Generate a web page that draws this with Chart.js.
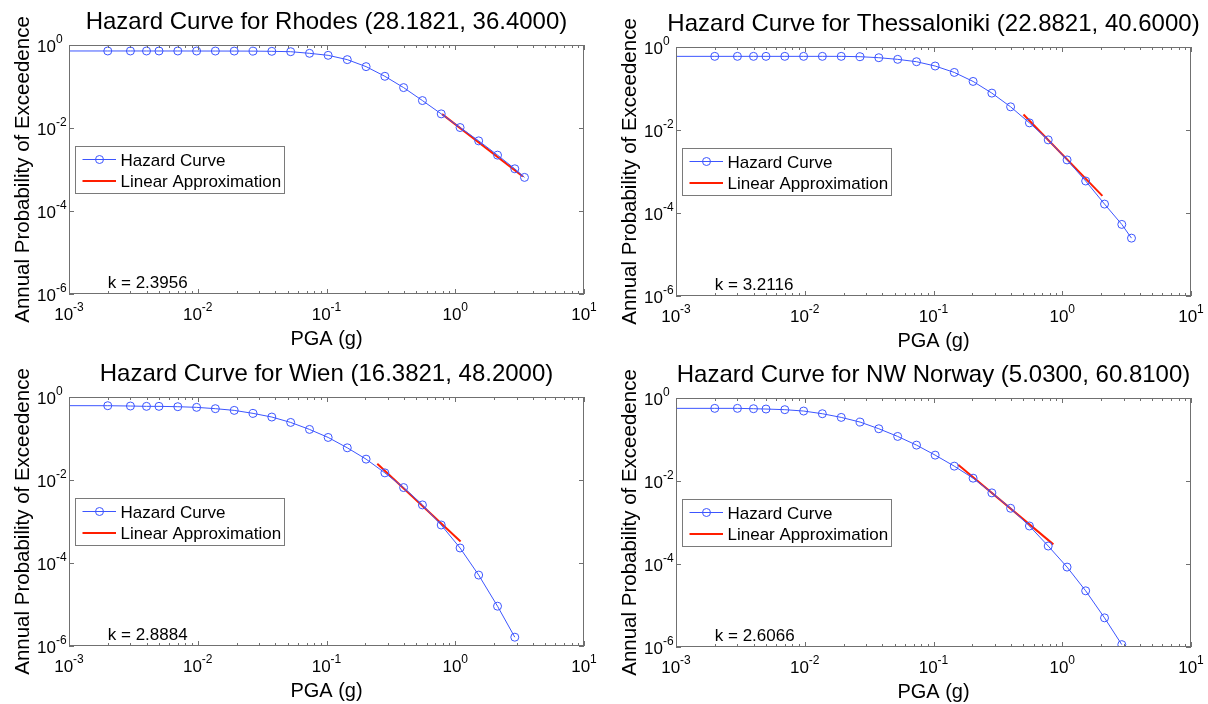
<!DOCTYPE html>
<html>
<head>
<meta charset="utf-8">
<title>Hazard Curves</title>
<script src="https://cdn.jsdelivr.net/npm/chart.js@4.4.1/dist/chart.umd.min.js"></script>
<style>
  html, body { margin: 0; padding: 0; background: #fff; overflow: hidden; }
  body { width: 1208px; height: 704px; position: relative; }
  canvas { position: absolute; }
</style>
</head>
<body>
<canvas id="rhodes" width="604" height="352" style="left:0px;top:0px"></canvas>
<canvas id="thessaloniki" width="604" height="352" style="left:607px;top:2px"></canvas>
<canvas id="wien" width="604" height="352" style="left:0px;top:352px"></canvas>
<canvas id="norway" width="604" height="352" style="left:607px;top:353px"></canvas>
<script>
// PGA levels (g) of the hazard curves
const pga = [0.0005, 0.002, 0.003, 0.004, 0.005, 0.007, 0.0098, 0.0137, 0.0192, 0.0269, 0.0376,
             0.0527, 0.0738, 0.103, 0.145, 0.203, 0.284, 0.397, 0.556, 0.778, 1.09, 1.52, 2.13, 2.9, 3.45];

// annual probability of exceedence, one array per site
const rhodesPoe = [0.718, 0.718, 0.718, 0.717, 0.717, 0.717, 0.716, 0.715, 0.714, 0.712, 0.704,
                   0.69, 0.63, 0.564, 0.444, 0.301, 0.176, 0.0941, 0.0458, 0.0219, 0.01026, 0.0049, 0.00222, 0.00104, 0.000645];
const thessPoe = [0.595, 0.595, 0.595, 0.595, 0.595, 0.595, 0.595, 0.595, 0.595, 0.584, 0.552,
                  0.504, 0.442, 0.348, 0.244, 0.148, 0.0774, 0.0362, 0.01486, 0.00578, 0.0019, 0.00059, 0.000164, 0.0000531, 0.0000248];
const wienPoe = [0.62, 0.617, 0.606, 0.595, 0.595, 0.584, 0.563, 0.523, 0.476, 0.403, 0.329,
                 0.244, 0.1656, 0.106, 0.0597, 0.0318, 0.01486, 0.00657, 0.00251, 0.000824, 0.00023, 0.0000512, 0.0000091, 0.00000163, null];
const norwayPoe = [0.563, 0.563, 0.563, 0.552, 0.542, 0.523, 0.485, 0.418, 0.341, 0.263, 0.1816,
                   0.1186, 0.0732, 0.042, 0.0228, 0.01169, 0.00517, 0.0022, 0.000824, 0.000271, 0.0000843, 0.0000226, 0.00000504, 0.00000114, null];

// end points of the linear (log-log) approximations
const rhodesFitX = [0.79, 3.35];
const rhodesFitY = [0.0216, 0.00068];
const thessFitX = [0.5, 2.05];
const thessFitY = [0.0236, 0.000258];
const wienFitX = [0.248, 1.10];
const wienFitY = [0.0245, 0.00033];
const norwayFitX = [0.1555, 0.853];
const norwayFitY = [0.0245, 0.000297];

// tick labels (powers of ten)
const xTickExps = [-3, -2, -1, 0, 1];
const yTickExps = [0, -2, -4, -6];
const xMinorMult = [2, 3, 4, 5, 6, 7, 8, 9];

const FONT = "'Liberation Sans', Arial, Helvetica, sans-serif";
const BLUE = 'rgb(60, 85, 255)';
const RED = 'rgb(255, 30, 0)';
const AXIS = '#707070';

function drawPow(ctx, exp, x, base, align) {
    ctx.font = `17px ${FONT}`;
    const bw = ctx.measureText('10').width;
    ctx.font = `12px ${FONT}`;
    const sw = ctx.measureText(String(exp)).width;
    const left = align === 'center' ? x - (bw + sw) / 2 : x;
    ctx.textAlign = 'left';
    ctx.textBaseline = 'alphabetic';
    ctx.font = `17px ${FONT}`;
    ctx.fillText('10', left, base);
    ctx.font = `12px ${FONT}`;
    ctx.fillText(String(exp), left + bw, base - 9);
}

// MATLAB-like axes box, inward ticks, labels, legend and k annotation
const matlabAxes = {
    id: 'matlabAxes',
    afterDraw(chart, args, opts) {
        const { ctx, chartArea: a, scales: { x, y } } = chart;
        ctx.save();

        // ticks
        ctx.strokeStyle = AXIS;
        ctx.lineWidth = 1;
        ctx.beginPath();
        xTickExps.forEach(e => {
            const px = Math.round(x.getPixelForValue(Math.pow(10, e))) + 0.5;
            ctx.moveTo(px, a.bottom); ctx.lineTo(px, a.bottom - 5);
            ctx.moveTo(px, a.top); ctx.lineTo(px, a.top + 5);
            if (e < xTickExps[xTickExps.length - 1]) {
                xMinorMult.forEach(m => {
                    const mx = Math.round(x.getPixelForValue(m * Math.pow(10, e))) + 0.5;
                    ctx.moveTo(mx, a.bottom); ctx.lineTo(mx, a.bottom - 3);
                    ctx.moveTo(mx, a.top); ctx.lineTo(mx, a.top + 3);
                });
            }
        });
        yTickExps.forEach(e => {
            const py = Math.round(y.getPixelForValue(Math.pow(10, e))) + 0.5;
            ctx.moveTo(a.left, py); ctx.lineTo(a.left + 5, py);
            ctx.moveTo(a.right, py); ctx.lineTo(a.right - 5, py);
        });
        ctx.stroke();
        ctx.strokeRect(a.left + 0.5, a.top + 0.5, a.right - a.left - 1, a.bottom - a.top - 1);

        // tick labels
        ctx.fillStyle = '#000';
        xTickExps.forEach(e => drawPow(ctx, e, x.getPixelForValue(Math.pow(10, e)), a.bottom + 25.5, 'center'));
        yTickExps.forEach(e => drawPow(ctx, e, a.left - 32, y.getPixelForValue(Math.pow(10, e)) + 7, 'left'));

        // title and axis titles
        const cx = (a.left + a.right) / 2;
        ctx.textAlign = 'center';
        ctx.textBaseline = 'alphabetic';
        ctx.font = `24px ${FONT}`;
        ctx.fillText(opts.title, cx, a.top - 16);
        ctx.font = `20px ${FONT}`;
        ctx.fillText('PGA (g)', cx, a.bottom + 51);
        ctx.save();
        ctx.translate(a.left - 40.5, (a.top + a.bottom) / 2);
        ctx.rotate(-Math.PI / 2);
        ctx.font = `20.5px ${FONT}`;
        ctx.fillText('Annual Probability of Exceedence', 0, 0);
        ctx.restore();

        // k annotation
        ctx.textAlign = 'left';
        ctx.font = `17px ${FONT}`;
        ctx.fillText(opts.k, x.getPixelForValue(0.002), y.getPixelForValue(2e-6) + 6);

        // legend
        const lx = a.left + 6, ly = a.top + 101, lw = 209, lh = 47;
        ctx.fillStyle = '#fff';
        ctx.fillRect(lx, ly, lw, lh);
        ctx.strokeStyle = '#7a7a7a';
        ctx.strokeRect(lx + 0.5, ly + 0.5, lw, lh);
        const r1 = ly + 13.5, r2 = ly + 35;
        ctx.strokeStyle = BLUE;
        ctx.lineWidth = 1;
        ctx.beginPath();
        ctx.moveTo(lx + 7.5, r1); ctx.lineTo(lx + 41, r1);
        ctx.stroke();
        ctx.beginPath();
        ctx.arc(lx + 24.5, r1, 4, 0, Math.PI * 2);
        ctx.stroke();
        ctx.strokeStyle = RED;
        ctx.lineWidth = 2;
        ctx.beginPath();
        ctx.moveTo(lx + 7.5, r2); ctx.lineTo(lx + 41, r2);
        ctx.stroke();
        ctx.fillStyle = '#000';
        ctx.fillText('Hazard Curve', lx + 45.5, r1 + 6);
        ctx.fillText('Linear Approximation', lx + 45.5, r2 + 6);

        ctx.restore();
    }
};

function makeChart(id, title, k, poe, fitX, fitY) {
    new Chart(document.getElementById(id), {
        type: 'line',
        data: {
            datasets: [{
                label: 'Hazard Curve',
                data: pga.map((v, i) => ({ x: v, y: poe[i] })),
                borderColor: BLUE,
                borderWidth: 1,
                pointRadius: 4,
                pointBorderWidth: 1,
                pointBorderColor: BLUE,
                pointBackgroundColor: 'rgba(0,0,0,0)',
                tension: 0
            }, {
                label: 'Linear Approximation',
                data: fitX.map((v, i) => ({ x: v, y: fitY[i] })),
                borderColor: RED,
                borderWidth: 2,
                pointRadius: 0
            }]
        },
        options: {
            responsive: false,
            animation: false,
            devicePixelRatio: 1,
            layout: { padding: { left: 69, top: 45, right: 604 - 69 - 515, bottom: 352 - 45 - 249 } },
            scales: {
                x: { type: 'logarithmic', min: 0.001, max: 10, display: false },
                y: { type: 'logarithmic', min: 1e-6, max: 1, display: false }
            },
            plugins: {
                legend: { display: false },
                tooltip: { enabled: false },
                matlabAxes: { title: title, k: k }
            }
        },
        plugins: [matlabAxes]
    });
}

makeChart('rhodes', 'Hazard Curve for Rhodes (28.1821, 36.4000)', 'k = 2.3956', rhodesPoe, rhodesFitX, rhodesFitY);
makeChart('thessaloniki', 'Hazard Curve for Thessaloniki (22.8821, 40.6000)', 'k = 3.2116', thessPoe, thessFitX, thessFitY);
makeChart('wien', 'Hazard Curve for Wien (16.3821, 48.2000)', 'k = 2.8884', wienPoe, wienFitX, wienFitY);
makeChart('norway', 'Hazard Curve for NW Norway (5.0300, 60.8100)', 'k = 2.6066', norwayPoe, norwayFitX, norwayFitY);
</script>
</body>
</html>
